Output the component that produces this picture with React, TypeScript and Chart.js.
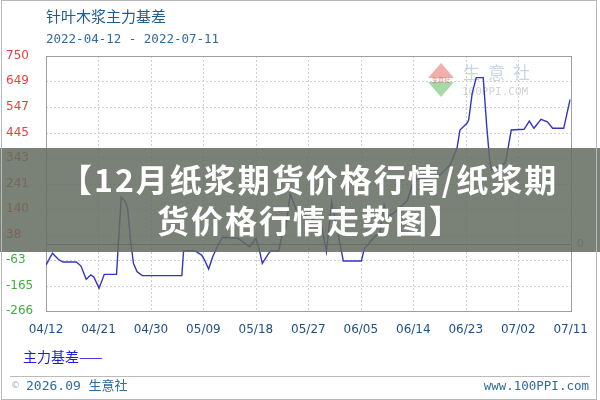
import React, { useEffect, useRef } from "react";
import { Chart, registerables } from "chart.js";

Chart.register(...registerables);

// ---- data ----
const dayOffsets = [0, 1.1, 2.1, 2.9, 5.2, 6.0, 6.9, 7.7, 8.2, 9.1, 10.0, 12.1, 12.9, 13.6, 14.0, 14.5, 15.0, 15.6, 16.5, 23.3, 23.6, 25.5, 26.7, 27.2, 27.9, 28.6, 29.5, 30.3, 32.9, 34.0, 34.9, 35.6, 36.0, 36.6, 37.1, 38.0, 38.5, 39.9, 40.5, 41.1, 41.9, 42.4, 42.9, 44.5, 46.5, 47.3, 48.1, 49.0, 50.3, 51.0, 54.1, 54.6, 55.2, 56.1, 57.3, 58.0, 58.6, 60.0, 62.0, 63.1, 65.0, 67.6, 69.3, 70.5, 71.0, 72.2, 72.5, 73.1, 73.8, 75.0, 75.6, 76.1, 76.4, 78.7, 79.0, 79.8, 82.0, 82.9, 83.7, 84.9, 86.0, 86.9, 88.8, 89.9];
const basisValues = [-83, -36, -60, -71, -71, -87, -140, -122, -130, -175, -120, -120, 187, 170, 143, 17, -76, -109, -125, -125, -26, -26, -43, -63, -99, -50, -3, 28, 24, 6, -10, 10, 24, -23, -76, -43, -27, -27, 37, 63, 200, 170, 138, 115, 90, 69, -30, 170, 17, -67, -67, -16, -3, 24, 50, 156, 110, 130, 175, 257, 264, 276, 316, 383, 455, 482, 495, 601, 664, 664, 468, 336, 296, 322, 349, 455, 458, 491, 462, 498, 488, 462, 462, 577];
const xTickDays = [0, 9, 18, 27, 36, 45, 54, 63, 72, 81, 90];
const xTickLabels = ["04/12", "04/21", "04/30", "05/09", "05/18", "05/27", "06/05", "06/14", "06/23", "07/02", "07/11"];
const yTickValues = [750, 649, 547, 445, 343, 241, 140, 38, -63, -165, -266];
const titleText = "针叶木浆主力基差";
const subtitleText = "2022-04-12 - 2022-07-11";
const legendText = "主力基差——";
const footerLeft = "2026.09 生意社";
const footerRight = "www.100PPI.com";
const bannerLines = ["【12月纸浆期货价格行情/纸浆期", "货价格行情走势图】"];

const CJK = '"Noto Sans CJK SC", "Noto Sans", sans-serif';

function spacedText(ctx: CanvasRenderingContext2D, text: string, x: number, y: number, spacing: number) {
  let cx = x;
  for (const ch of Array.from(text)) {
    ctx.fillText(ch, cx, y);
    cx += ctx.measureText(ch).width + spacing;
  }
}

const decorations = {
  id: "decorations",
  beforeDatasetsDraw(chart: any) {
    const { ctx, chartArea: a, scales } = chart;
    const xs = scales.x;
    const ys = scales.y;
    ctx.save();
    // dashed grid
    ctx.strokeStyle = "#cfcfcf";
    ctx.lineWidth = 1;
    ctx.setLineDash([2, 2]);
    ctx.beginPath();
    for (const v of yTickValues) {
      const y = Math.round(ys.getPixelForValue(v)) + 0.5;
      ctx.moveTo(a.left, y);
      ctx.lineTo(a.right, y);
    }
    for (const d of xTickDays) {
      const x = Math.round(xs.getPixelForValue(d)) + 0.5;
      ctx.moveTo(x, a.top);
      ctx.lineTo(x, a.bottom);
    }
    ctx.stroke();
    ctx.setLineDash([]);
    // zero line
    const y0 = Math.round(ys.getPixelForValue(0)) + 0.5;
    ctx.strokeStyle = "#7a7a7a";
    ctx.beginPath();
    ctx.moveTo(a.left, y0);
    ctx.lineTo(a.right, y0);
    ctx.stroke();
    // frame
    ctx.strokeStyle = "#a0a0a0";
    ctx.strokeRect(Math.round(a.left) + 0.5, Math.round(a.top) + 0.5, Math.round(a.right - a.left), Math.round(a.bottom - a.top));
    // zero label on right
    ctx.fillStyle = "#999";
    ctx.font = "11px 'DejaVu Sans'";
    ctx.textAlign = "left";
    ctx.textBaseline = "middle";
    ctx.fillText("0", a.right + 6, y0);

    // watermark logo
    ctx.globalAlpha = 0.6;
    ctx.fillStyle = "#e67a72";
    ctx.beginPath();
    ctx.moveTo(441, 63);
    ctx.lineTo(454, 78);
    ctx.lineTo(428, 78);
    ctx.closePath();
    ctx.fill();
    ctx.fillStyle = "#6cbf6c";
    ctx.beginPath();
    ctx.moveTo(428, 82);
    ctx.lineTo(454, 82);
    ctx.lineTo(441, 97);
    ctx.closePath();
    ctx.fill();
    ctx.fillStyle = "#d04040";
    ctx.font = "6px " + CJK;
    ctx.textAlign = "center";
    ctx.fillText("生意社", 441, 80);
    ctx.fillStyle = "#9ebbd6";
    ctx.font = "17px " + CJK;
    ctx.textAlign = "left";
    const wm = "生意社";
    for (let i = 0; i < wm.length; i++) ctx.fillText(wm[i], 463 + i * 25, 73);
    ctx.fillStyle = "#b5b5b5";
    ctx.font = "11px 'DejaVu Sans Mono'";
    ctx.fillText("100PPI.COM", 462, 92);
    ctx.restore();
  },
  afterDraw(chart: any) {
    const { ctx, width } = chart;
    ctx.save();
    // band
    ctx.fillStyle = "rgba(100,108,95,0.86)";
    ctx.fillRect(0, 148, width, 104);
    ctx.fillStyle = "#ffffff";
    ctx.font = "bold 32px " + CJK;
    ctx.textAlign = "left";
    ctx.textBaseline = "middle";
    spacedText(ctx, bannerLines[0], 60, 180, 2);
    spacedText(ctx, bannerLines[1], 157, 221, 2);

    // title / subtitle
    ctx.fillStyle = "#1f5c8c";
    ctx.font = "15px " + CJK;
    ctx.fillText(titleText, 46, 16);
    ctx.fillStyle = "#2f6b9c";
    ctx.font = "12.5px 'DejaVu Sans Mono'";
    ctx.fillText(subtitleText, 46, 40);

    // legend
    ctx.fillStyle = "#1c1ce0";
    ctx.font = "14px " + CJK;
    ctx.fillText(legendText, 23, 357);

    // separator
    ctx.strokeStyle = "#bbbbbb";
    ctx.lineWidth = 1;
    ctx.beginPath();
    ctx.moveTo(10, 376.5);
    ctx.lineTo(590, 376.5);
    ctx.stroke();

    // footer
    ctx.fillStyle = "#aaaaaa";
    ctx.font = "9px 'DejaVu Sans'";
    ctx.fillText("©", 11, 386);
    ctx.fillStyle = "#2f6b9c";
    ctx.font = "13px 'DejaVu Sans Mono', " + CJK;
    ctx.fillText(footerLeft, 26, 387);
    ctx.textAlign = "right";
    ctx.font = "12.5px 'DejaVu Sans Mono'";
    ctx.fillText(footerRight, 589, 387);

    // outer border
    ctx.strokeStyle = "#b8b8b8";
    ctx.strokeRect(1.5, 0.5, 595, 399);
    ctx.restore();
  },
};

export default function App() {
  const ref = useRef<HTMLCanvasElement | null>(null);
  useEffect(() => {
    document.body.style.margin = "0";
    const canvas = ref.current;
    if (!canvas) return;
    const chart = new Chart(canvas, {
      type: "line",
      data: {
        datasets: [
          {
            label: "主力基差",
            data: dayOffsets.map((d, i) => ({ x: d, y: basisValues[i] })),
            borderColor: "#3434c4",
            borderWidth: 1.4,
            pointRadius: 0,
            tension: 0,
            fill: false,
          },
        ],
      },
      options: {
        responsive: false,
        animation: false,
        devicePixelRatio: 1,
        layout: { padding: { left: 6, top: 56, right: 23, bottom: 0 } },
        plugins: {
          legend: { display: false },
          tooltip: { enabled: false },
          title: { display: false },
        },
        scales: {
          x: {
            type: "linear",
            min: 0,
            max: 90,
            afterBuildTicks: (s: any) => {
              s.ticks = xTickDays.map((v) => ({ value: v }));
            },
            afterFit: (s: any) => {
              s.height = 89;
            },
            grid: { display: false, drawTicks: false },
            border: { display: false },
            ticks: {
              autoSkip: false,
              maxRotation: 0,
              padding: 12,
              color: "#1f4f86",
              font: { family: "DejaVu Sans", size: 12 },
              callback: (v: any) => {
                const i = xTickDays.indexOf(Number(v));
                return i >= 0 ? xTickLabels[i] : "";
              },
            },
          },
          y: {
            type: "linear",
            min: -266,
            max: 750,
            afterBuildTicks: (s: any) => {
              s.ticks = yTickValues.map((v) => ({ value: v }));
            },
            afterFit: (s: any) => {
              s.width = 40;
            },
            grid: { display: false, drawTicks: false },
            border: { display: false },
            ticks: {
              crossAlign: "far",
              padding: 0,
              font: { family: "DejaVu Sans", size: 12 },
              color: (c: any) => (c.tick && c.tick.value < 0 ? "#3fae3f" : "#e8403a"),
              callback: (v: any) => String(v),
            },
          },
        },
      },
      plugins: [decorations],
    } as any);
    return () => chart.destroy();
  }, []);
  return (
    <div style={{ position: "fixed", left: 0, top: 0, width: 600, height: 400, background: "#fff" }}>
      <canvas ref={ref} width={600} height={400} style={{ display: "block", width: 600, height: 400 }} />
    </div>
  );
}
